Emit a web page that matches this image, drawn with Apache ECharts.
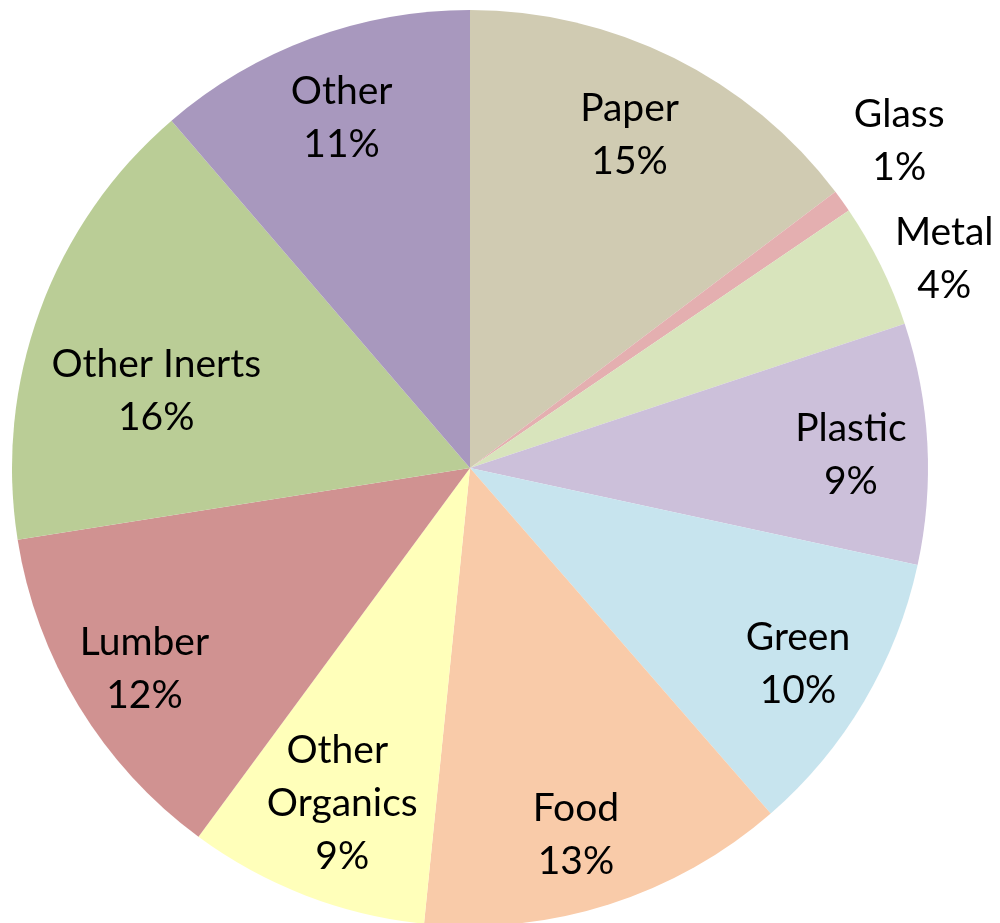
<!DOCTYPE html>
<html>
<head>
<meta charset="utf-8">
<script src="https://cdn.jsdelivr.net/npm/echarts@6/dist/echarts.min.js"></script>
<style>
html,body{margin:0;padding:0;background:#fff;}
#chart{width:1000px;height:923px;}
</style>
</head>
<body>
<div id="chart"></div>
<script>
// ---- data (shares in %; labels show rounded %) ----
const categories = ['Paper', 'Glass', 'Metal', 'Plastic', 'Green', 'Food', 'Other Organics', 'Lumber', 'Other Inerts', 'Other'];
const shares     = [14.7, 0.8, 4.4, 8.5, 10.2, 13.0, 8.5, 12.4, 16.2, 11.3];

// ---- style ----
const colors = ['#D0CBB2', '#E4AFB0', '#D8E4BC', '#CCC0DA', '#C7E4EE', '#F9CBA9', '#FFFFBA', '#D09291', '#BACD96', '#A898BE'];
const labelOffsets = {
  'Paper': [-5, -2], 'Glass': [129, -112], 'Metal': [143, -46], 'Plastic': [12, 7],
  'Green': [10, 8], 'Food': [-6, 15], 'Other Organics': [5, -9], 'Lumber': [-10, 9],
  'Other Inerts': [33, 50], 'Other': [0, -4]
};
const CX = 470, CY = 468, R = 458;

const chart = echarts.init(document.getElementById('chart'), null, {renderer: 'canvas'});

const pieData = categories.map((c, i) => ({
  name: c, value: shares[i], itemStyle: {color: colors[i]}
}));
const labelData = categories.map((c, i) => ({
  name: c, value: shares[i],
  label: Object.assign({offset: labelOffsets[c]}, c === 'Other Organics' ? {width: 180, overflow: 'break'} : {})
}));

chart.setOption({
  animation: false,
  backgroundColor: '#ffffff',
  series: [
    {
      type: 'pie',
      center: [CX, CY],
      radius: [0, R],
      startAngle: 90,
      clockwise: true,
      avoidLabelOverlap: false,
      label: {show: false},
      labelLine: {show: false},
      itemStyle: {borderWidth: 0},
      emphasis: {disabled: true},
      data: pieData
    },
    {
      type: 'pie',
      center: [CX, CY],
      radius: [R * 0.6, R],
      startAngle: 90,
      clockwise: true,
      silent: true,
      avoidLabelOverlap: false,
      itemStyle: {color: 'rgba(0,0,0,0)', borderWidth: 0},
      labelLine: {show: false},
      label: {
        show: true,
        position: 'inside',
        color: '#000000',
        fontFamily: 'Lato, "Open Sans", sans-serif',
        fontSize: 39,
        lineHeight: 53,
        align: 'center',
        textBorderWidth: 0,
        formatter: p => p.name + '\n' + Math.round(p.percent) + '%'
      },
      emphasis: {disabled: true},
      data: labelData
    }
  ]
});
</script>
</body>
</html>
